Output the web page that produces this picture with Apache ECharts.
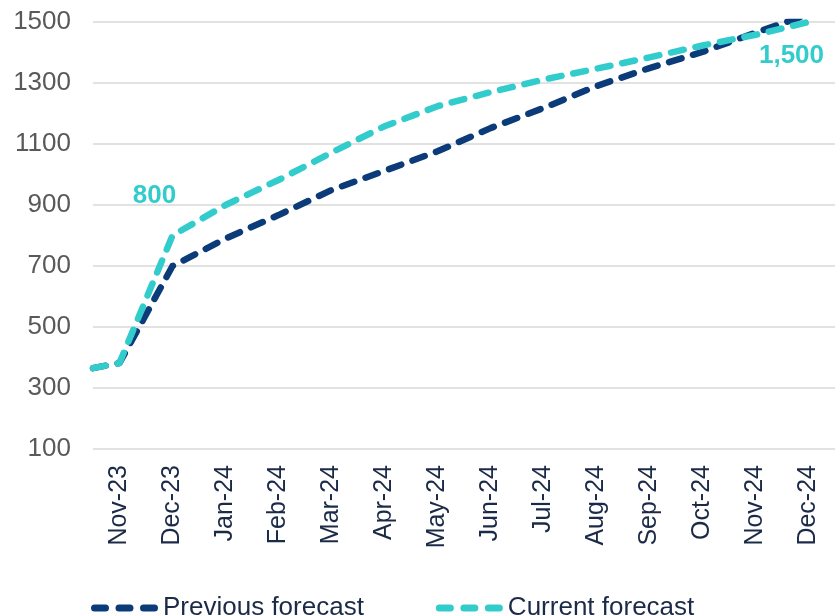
<!DOCTYPE html>
<html>
<head>
<meta charset="utf-8">
<script src="https://cdn.jsdelivr.net/npm/echarts@6/dist/echarts.min.js"></script>
<style>
  html, body { margin: 0; padding: 0; background: #ffffff; }
  #chart { width: 835px; height: 615px; }
</style>
</head>
<body>
<div id="chart"></div>
<script>
// Month labels along the bottom axis
const months = ['Nov-23', 'Dec-23', 'Jan-24', 'Feb-24', 'Mar-24', 'Apr-24', 'May-24',
                'Jun-24', 'Jul-24', 'Aug-24', 'Sep-24', 'Oct-24', 'Nov-24', 'Dec-24'];

// Opening level (mid Oct-23), drawn at the left edge of the axis
const startPosition = -0.5;
const previousStart = 365;
const currentStart = 365;

// Monthly values for each forecast
const previousForecast = [382, 700, 790, 867, 949, 1012, 1076, 1152, 1218, 1290, 1349, 1402, 1465, 1525];
const currentForecast  = [382, 800, 900, 982, 1072, 1158, 1224, 1270, 1311, 1347, 1384, 1423, 1458, 1500];

// Y axis ticks
const yMin = 100, yMax = 1500, yStep = 200;

// Points that carry a value label
const labelledCurrent = { 1: { offset: [-18, -22], position: 'top' },
                          13: { offset: [-17, 16], position: 'bottom' } };

const NAVY = '#0B3B78';
const TEAL = '#33CCCC';
const FONT = 'Liberation Sans, Arial, sans-serif';

function toPoints(start, values, labelled) {
  const pts = [{ value: [startPosition, start] }];
  values.forEach((v, i) => {
    const p = { value: [i, v] };
    if (labelled && labelled[i]) {
      p.label = {
        show: true,
        position: labelled[i].position,
        offset: labelled[i].offset,
        formatter: v.toLocaleString('en-US'),
        color: TEAL,
        fontSize: 26,
        fontWeight: 'bold',
        fontFamily: FONT
      };
    }
    pts.push(p);
  });
  return pts;
}

const dashIcon = 'path://M3.5 0H14.5A3.5 3.5 0 0 1 14.5 7H3.5A3.5 3.5 0 0 1 3.5 0Z' +
                 'M28 0H39A3.5 3.5 0 0 1 39 7H28A3.5 3.5 0 0 1 28 0Z' +
                 'M52.5 0H63.5A3.5 3.5 0 0 1 63.5 7H52.5A3.5 3.5 0 0 1 52.5 0Z';

const chart = echarts.init(document.getElementById('chart'), null, { renderer: 'canvas' });

function lineSeries(name, color, start, values, labelled, z) {
  return {
    name: name,
    type: 'line',
    data: toPoints(start, values, labelled),
    symbol: 'circle',
    symbolSize: 0,
    showSymbol: true,
    itemStyle: { color: color },
    clip: true,
    color: color,
    label: { show: false },
    lineStyle: { color: color, width: 6.5, type: [13, 12], cap: 'round', join: 'round' },
    emphasis: { disabled: true },
    z: z
  };
}

chart.setOption({
  animation: false,
  backgroundColor: '#ffffff',
  textStyle: { fontFamily: FONT },
  grid: { left: 93, top: 22, width: 746, height: 427, containLabel: false },
  legend: {
    left: 86,
    top: 590,
    icon: dashIcon,
    itemWidth: 67,
    itemHeight: 8,
    itemGap: 72,
    textStyle: { fontSize: 26, color: '#1B2A47', fontFamily: FONT },
    data: [
      { name: 'Previous forecast', itemStyle: { color: NAVY, borderWidth: 0 } },
      { name: 'Current forecast', itemStyle: { color: TEAL, borderWidth: 0 } }
    ]
  },
  xAxis: {
    type: 'value',
    min: startPosition,
    max: months.length - 0.5,
    axisLine: { show: false },
    axisTick: { show: false },
    splitLine: { show: false },
    axisLabel: {
      customValues: months.map((m, i) => i),
      formatter: (v) => months[Math.round(v)] || '',
      rotate: 90,
      margin: 16,
      fontSize: 25,
      color: '#1B2A47',
      fontFamily: FONT
    }
  },
  yAxis: {
    type: 'value',
    min: yMin,
    max: yMax,
    interval: yStep,
    axisLine: { show: false },
    axisTick: { show: false },
    splitLine: { lineStyle: { color: '#D9D9D9', width: 1.5 } },
    axisLabel: {
      margin: 22,
      fontSize: 26,
      color: '#595959',
      fontFamily: FONT,
      formatter: (v) => String(v)
    }
  },
  series: [
    lineSeries('Previous forecast', NAVY, previousStart, previousForecast, null, 2),
    lineSeries('Current forecast', TEAL, currentStart, currentForecast, labelledCurrent, 3)
  ]
});
</script>
</body>
</html>
